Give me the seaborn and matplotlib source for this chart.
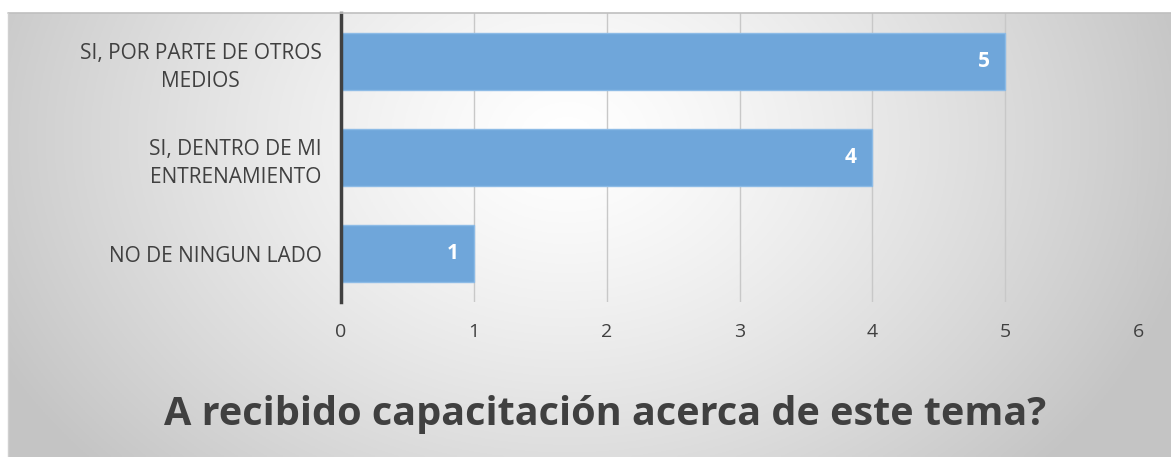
import numpy as np
import pandas as pd
import matplotlib
matplotlib.use("Agg")
import matplotlib.pyplot as plt
import seaborn as sns

categories = ["SI, POR PARTE DE OTROS\nMEDIOS", "SI, DENTRO DE MI\nENTRENAMIENTO", "NO DE NINGUN LADO"]
values = [5, 4, 1]
xticks = [0, 1, 2, 3, 4, 5, 6]
title = "A recibido capacitación acerca de este tema?"

sns.set_theme(style="white")
plt.rcParams['font.family'] = ['Open Sans', 'DejaVu Sans']

W, H = 1171, 457
fig = plt.figure(figsize=(W / 100, H / 100), dpi=100, facecolor="white")

# background gradient panel
frame_left = 8 / W
frame_top = 1 - 13 / H
bg = fig.add_axes([frame_left, 0, 1 - frame_left, frame_top])
ny, nx = 200, 500
yy, xx = np.mgrid[0:ny, 0:nx]
cx, cy = nx * 0.48, ny * 0.28
r = np.sqrt(((xx - cx) / (nx * 0.55)) ** 2 + ((yy - cy) / (ny * 1.1)) ** 2)
r = np.clip(r, 0, 1)
val = 1.0 - (1.0 - 0.77) * r ** 1.3
img = np.dstack([val, val, val])
bg.imshow(img, aspect="auto", extent=[0, 1, 0, 1], origin="upper")
bg.set_xlim(0, 1)
bg.set_ylim(0, 1)
bg.axis("off")
fig.add_artist(plt.Line2D([frame_left, 1], [frame_top, frame_top], transform=fig.transFigure, color="#bfbfbf", lw=1.2))
fig.add_artist(plt.Line2D([frame_left, frame_left], [0, frame_top], transform=fig.transFigure, color="#d0d0d0", lw=1.0))

ax = fig.add_axes([341 / W, 1 - 302 / H, (1138 - 341) / W, (302 - 13) / H])
ax.patch.set_alpha(0)
df = pd.DataFrame({"cat": categories, "val": values})
sns.barplot(data=df, y="cat", x="val", orient="h", color="#6fa6da", saturation=1,
            width=0.59, edgecolor="#8dbbe6", linewidth=1.0, ax=ax, zorder=3)

ax.set_xlim(0, 6)
ax.set_ylim(2.5, -0.5)
ax.set_xticks(xticks)
ax.set_xticklabels([str(t) for t in xticks], fontsize=14, color="#404040")
ax.tick_params(axis="x", length=0, pad=15)
ax.tick_params(axis="y", length=0, pad=14)
for lab in ax.get_yticklabels():
    lab.set_fontsize(15)
    lab.set_color("#404040")
    lab.set_multialignment("center")
    lab.set_linespacing(1.45)
ax.set_xlabel("")
ax.set_ylabel("")
ax.grid(axis="x", color="#c8c8c8", lw=1.0, zorder=0)
ax.grid(axis="y", visible=False)
for s in ["top", "right", "bottom"]:
    ax.spines[s].set_visible(False)
ax.spines["left"].set_color("#404040")
ax.spines["left"].set_linewidth(2.5)
ax.spines["left"].set_zorder(5)

for i, v in enumerate(values):
    ax.text(v - 0.16, i, str(v), ha="center", va="center", color="white",
            fontsize=15, fontweight="bold", zorder=6)

fig.text(605 / W, 1 - 414 / H, title, ha="center", va="center",
         fontsize=28.5, fontweight="bold", color="#404040", fontstretch="condensed")

fig.savefig("out.png", dpi=100, facecolor="white")
